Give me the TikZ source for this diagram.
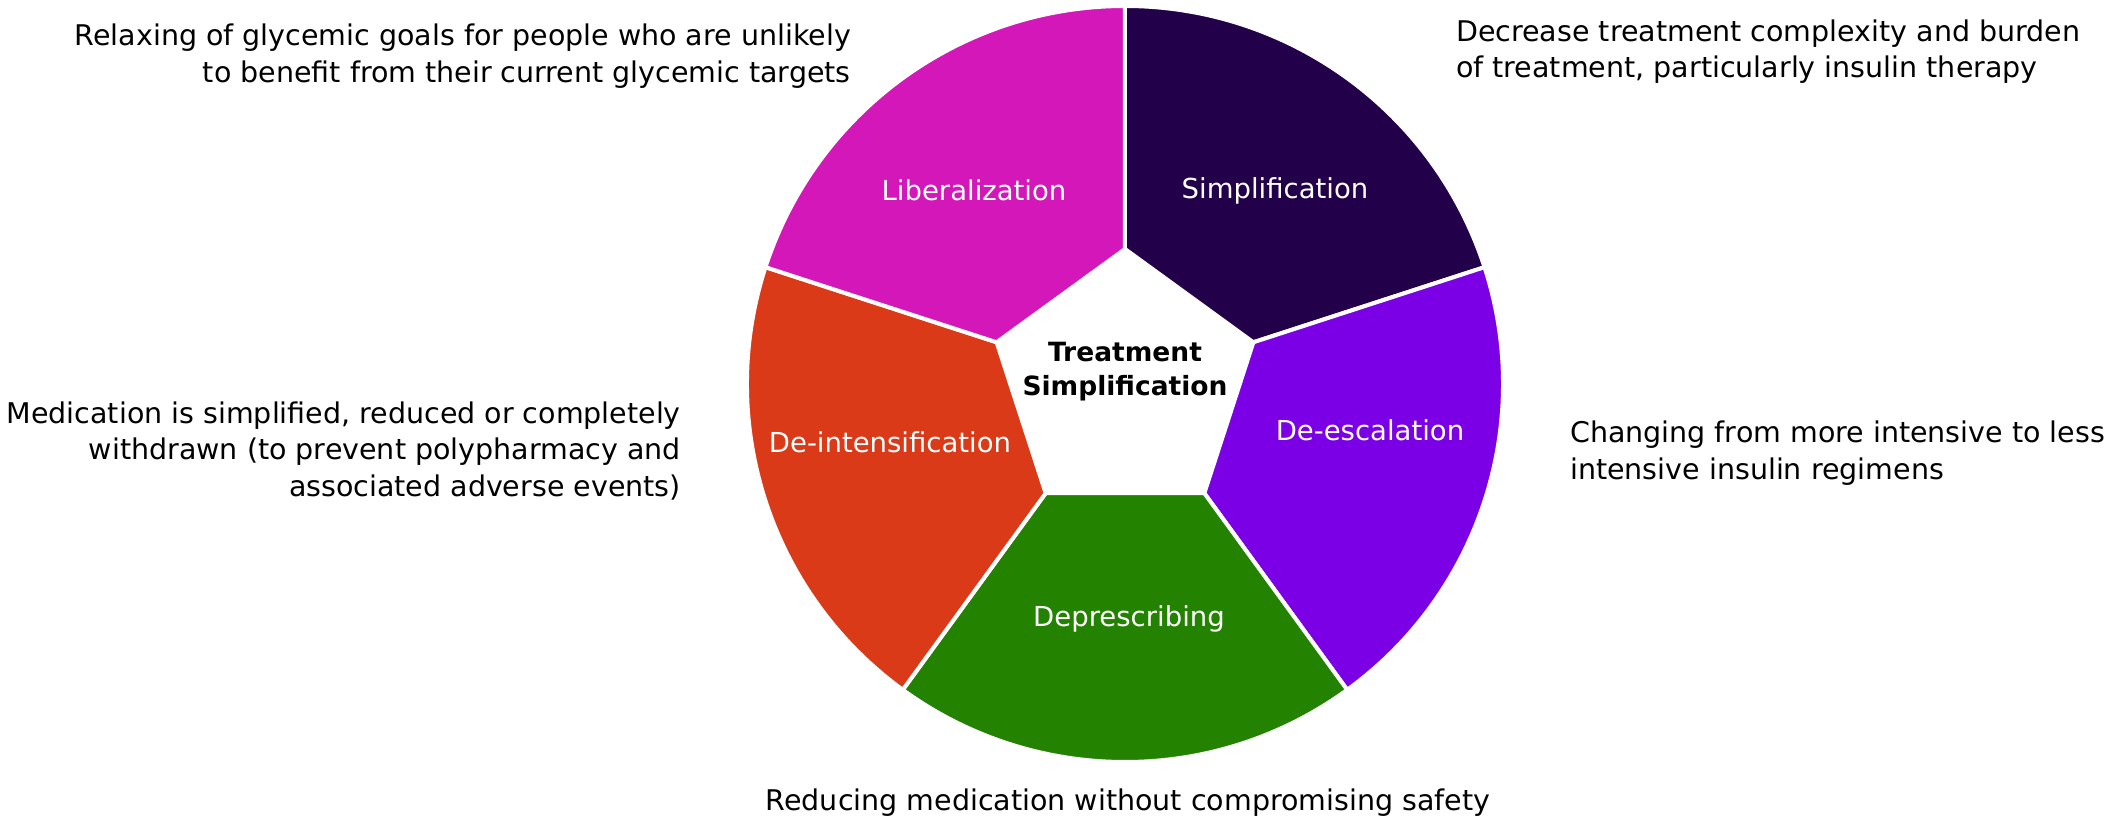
\documentclass[tikz,border=0pt]{standalone}
\usepackage{fontspec}
\setmainfont{DejaVu Sans}
\definecolor{cSimp}{HTML}{22004A}
\definecolor{cEsc}{HTML}{7B00E5}
\definecolor{cDepr}{HTML}{238200}
\definecolor{cInt}{HTML}{DA3A17}
\definecolor{cLib}{HTML}{D417B9}
\tikzset{
  sector/.style={draw=white, line width=4pt, line join=miter},
  seclabel/.style={text=white, font=\fontsize{27.5}{33}\selectfont, inner sep=0pt},
  note/.style={text=black, font=\fontsize{28.5}{36.5}\selectfont, inner sep=0pt},
  hub/.style={text=black, font=\fontsize{26.5}{34}\selectfont\bfseries, align=center, inner sep=0pt}
}
\begin{document}
\begin{tikzpicture}[x=1pt,y=1pt]
\useasboundingbox (-1125,-435) rectangle (1001,384);
\def\rin{135}
\def\rout{378}
% five wedges around a pentagonal hub
\foreach \a/\b/\c in {18/90/cSimp, -54/18/cEsc, -126/-54/cDepr, 162/234/cInt, 90/162/cLib}{
  \path[sector, fill=\c] (\a:\rin) -- (\a:\rout) arc[start angle=\a, end angle=\b, radius=\rout] -- (\b:\rin) -- cycle;
}
% wedge labels
\node[seclabel] (simp) at (150,193) {Simplification};
\node[seclabel] (lib)  at (-151,194) {Liberalization};
\node[seclabel] (esc)  at (245,-46) {De-escalation};
\node[seclabel] (int)  at (-235,-58) {De-intensification};
\node[seclabel] (depr) at (4,-235) {Deprescribing};
\node[hub] (hubtext) at (0,12) {Treatment\\Simplification};
% descriptions
\node[note, align=right, anchor=north east] (nlib) at (-274,360) {Relaxing of glycemic goals for people who are unlikely\\to benefit from their current glycemic targets};
\node[note, align=left, anchor=north west] (nsimp) at (331,364.5) {Decrease treatment complexity and burden\\of treatment, particularly insulin therapy};
\node[note, align=right, anchor=north east] (nint) at (-444,-17.5) {Medication is simplified, reduced or completely\\withdrawn (to prevent polypharmacy and\\associated adverse events)};
\node[note, align=left, anchor=north west] (nesc) at (445,-37) {Changing from more intensive to less\\intensive insulin regimens};
\node[note] (ndepr) at (3,-419) {Reducing medication without compromising safety};
\end{tikzpicture}
\end{document}
